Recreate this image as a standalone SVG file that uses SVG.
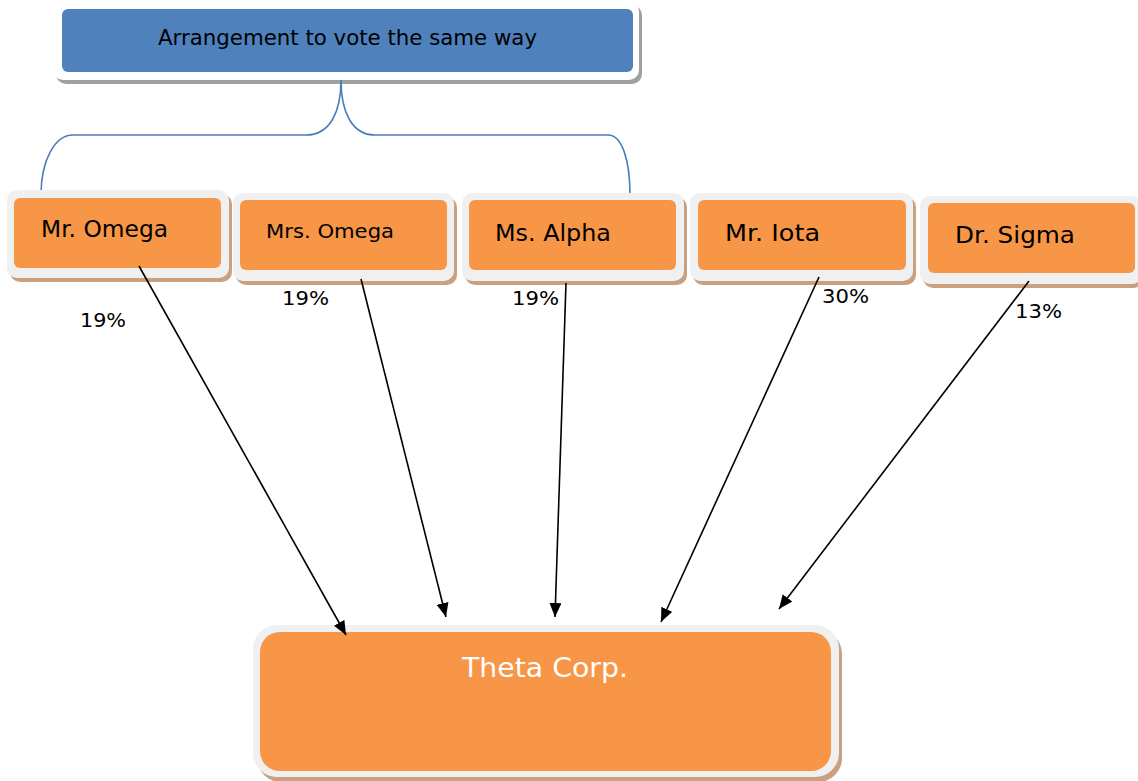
<svg xmlns="http://www.w3.org/2000/svg" width="1138" height="781" viewBox="0 0 1138 781">
<defs>
<style>
.frame{fill:#f0f0f0}
.shadow{fill:#c9a080}
.gshadow{fill:#a0a0a0}
.org{fill:#f79646}
.blue{fill:#4f81bd}
.t{font-family:"DejaVu Sans",Verdana,sans-serif;fill:#000}
.pct{font-family:"DejaVu Sans",Verdana,sans-serif;font-size:20px;fill:#000}
.br{fill:none;stroke:#4a7ebb;stroke-width:1.6}
.ar{stroke:#000;stroke-width:1.6;fill:none;marker-end:url(#ah)}
</style>
<marker id="ah" viewBox="0 0 14 12" refX="14" refY="6" markerWidth="14" markerHeight="12" markerUnits="userSpaceOnUse" orient="auto">
<path d="M0,0 L14,6 L0,12 z" fill="#000"/>
</marker>
</defs>
<g id="top">
<rect class="gshadow" x="56" y="5" width="586" height="79" rx="10"/>
<rect x="53" y="1" width="586" height="79" rx="10" fill="#ffffff"/>
<rect class="blue" x="62" y="9" width="571" height="63" rx="6"/>
<text class="t" x="158" y="45" font-size="21" textLength="379" lengthAdjust="spacingAndGlyphs">Arrangement to vote the same way</text>
</g>
<g id="bracket">
<path class="br" d="M341,80 C341,112 330,135 306,135 L73,135 C55,135 41,160 41,195"/>
<path class="br" d="M341,80 C341,112 352,135 375,135 L608,135 C622,135 630,160 630,195"/>
</g>
<g id="n1">
<rect class="shadow" x="10" y="194" width="222" height="88" rx="10"/>
<rect class="frame" x="7" y="190" width="222" height="88" rx="10"/>
<rect class="org" x="14" y="198" width="207" height="70" rx="6"/>
<text class="t" x="41" y="237" font-size="23" textLength="127" lengthAdjust="spacingAndGlyphs">Mr. Omega</text>
</g>
<g id="n2">
<rect class="shadow" x="236" y="197" width="221" height="88" rx="10"/>
<rect class="frame" x="233" y="193" width="221" height="88" rx="10"/>
<rect class="org" x="240" y="200" width="207" height="70" rx="6"/>
<text class="t" x="266" y="238" font-size="20" textLength="128" lengthAdjust="spacingAndGlyphs">Mrs. Omega</text>
</g>
<g id="n3">
<rect class="shadow" x="465" y="197" width="222" height="88" rx="10"/>
<rect class="frame" x="462" y="193" width="222" height="88" rx="10"/>
<rect class="org" x="469" y="200" width="207" height="70" rx="6"/>
<text class="t" x="495" y="241" font-size="23" textLength="116" lengthAdjust="spacingAndGlyphs">Ms. Alpha</text>
</g>
<g id="n4">
<rect class="shadow" x="693" y="197" width="223" height="88" rx="10"/>
<rect class="frame" x="690" y="193" width="223" height="88" rx="10"/>
<rect class="org" x="698" y="200" width="208" height="70" rx="6"/>
<text class="t" x="725" y="241" font-size="23" textLength="95" lengthAdjust="spacingAndGlyphs">Mr. Iota</text>
</g>
<g id="n5">
<rect class="shadow" x="923" y="200" width="220" height="88" rx="10"/>
<rect class="frame" x="920" y="196" width="222" height="88" rx="10"/>
<rect class="org" x="928" y="203" width="207" height="70" rx="6"/>
<text class="t" x="955" y="243" font-size="23" textLength="120" lengthAdjust="spacingAndGlyphs">Dr. Sigma</text>
</g>
<g id="theta">
<rect class="shadow" x="257" y="630" width="585" height="152" rx="24"/>
<rect class="frame" x="253" y="625" width="586" height="152" rx="24"/>
<rect class="org" x="260" y="632" width="571" height="139" rx="20"/>
<text x="462" y="677" font-family="DejaVu Sans,Verdana,sans-serif" font-size="27" fill="#ffffff" textLength="166" lengthAdjust="spacingAndGlyphs">Theta Corp.</text>
</g>
<g id="connectors">
<line class="ar" x1="139" y1="266" x2="346" y2="635"/>
<line class="ar" x1="361" y1="279" x2="446" y2="617"/>
<line class="ar" x1="566" y1="283" x2="555" y2="617"/>
<line class="ar" x1="819" y1="277" x2="661" y2="622"/>
<line class="ar" x1="1029" y1="281" x2="779" y2="609"/>
</g>
<g id="labels">
<text class="pct" x="80" y="327" textLength="46" lengthAdjust="spacingAndGlyphs">19%</text>
<text class="pct" x="282" y="305" textLength="47" lengthAdjust="spacingAndGlyphs">19%</text>
<text class="pct" x="512" y="305" textLength="47" lengthAdjust="spacingAndGlyphs">19%</text>
<text class="pct" x="822" y="303" textLength="47" lengthAdjust="spacingAndGlyphs">30%</text>
<text class="pct" x="1015" y="318" textLength="47" lengthAdjust="spacingAndGlyphs">13%</text>
</g>
</svg>
